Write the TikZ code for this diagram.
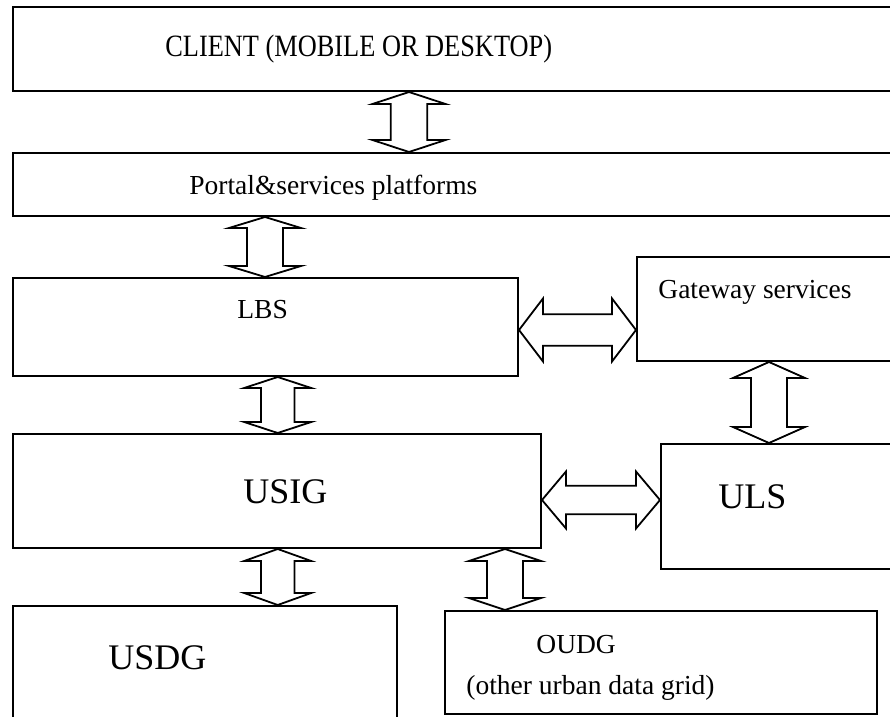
\documentclass[tikz,border=0pt]{standalone}
\usepackage{fontspec}
\setmainfont{Liberation Serif}
\usetikzlibrary{calc, fit}

% hollow two-headed arrows: end points, half head width, head length
\newcommand{\vdbl}[4]{%
  \draw[dblarrow] #1 -- ($#1+(#3,#4)$) -- ($#1+(#3/2,#4)$)
    -- ($#2+(#3/2,-#4)$) -- ($#2+(#3,-#4)$) -- #2
    -- ($#2+(-#3,-#4)$) -- ($#2+(-#3/2,-#4)$)
    -- ($#1+(-#3/2,#4)$) -- ($#1+(-#3,#4)$) -- cycle;}
\newcommand{\hdbl}[4]{%
  \draw[dblarrow] #1 -- ($#1+(#4,-#3)$) -- ($#1+(#4,-#3/2)$)
    -- ($#2+(-#4,-#3/2)$) -- ($#2+(-#4,-#3)$) -- #2
    -- ($#2+(-#4,#3)$) -- ($#2+(-#4,#3/2)$)
    -- ($#1+(#4,#3/2)$) -- ($#1+(#4,#3)$) -- cycle;}

\begin{document}
\begin{tikzpicture}[x=0.5pt, y=-0.5pt,
  box/.style={draw, line width=1pt, inner sep=0pt},
  dblarrow/.style={draw, line width=0.9pt, fill=white},
  small/.style={font=\fontsize{13.75}{16}\selectfont, inner sep=0pt, anchor=west},
  big/.style={font=\fontsize{18}{21}\selectfont, inner sep=0pt, anchor=west}]
  \useasboundingbox (0,0) rectangle (890,717);
  \clip (0,0) rectangle (890,717);

  % layers, left column
  \node[box, fit={(12.7,7) (900,91)}] (client) {};
  \node[box, fit={(12.7,153) (900,216)}] (portal) {};
  \node[box, fit={(12.7,278) (518,376)}] (lbs) {};
  \node[box, fit={(12.7,434) (541,548)}] (usig) {};
  \node[box, fit={(12.7,606) (397,740)}] (usdg) {};
  % right side
  \node[box, fit={(637,257) (900,361)}] (gateway) {};
  \node[box, fit={(661,444) (900,569)}] (uls) {};
  \node[box, fit={(445,611) (877,714)}] (oudg) {};

  % the client line is set narrow
  \node[font=\fontsize{15.5}{18}\selectfont, inner sep=0pt, anchor=base west]
    (clienttxt) at (165,57) {\scalebox{0.85}[1]{CLIENT (MOBILE OR DESKTOP)}};
  \node[small] (portaltxt) at (189,188) {Portal\&services platforms};
  \node[small] (lbstxt) at (237,310) {LBS};
  \node[small] (gatewaytxt) at (658,292) {Gateway services};
  \node[big] (usigtxt) at (243,492) {USIG};
  \node[big] (ulstxt) at (718,497) {ULS};
  \node[big] (usdgtxt) at (108,658) {USDG};
  \node[small] (oudgtxt) at (536,645) {OUDG};
  \node[small] (oudgsub) at (466,688) {(other urban data grid)};

  % links between layers
  \vdbl{(client.south -| 409,0)}{(portal.north -| 409,0)}{36.5}{12}
  \vdbl{(portal.south -| 265,0)}{(lbs.north -| 265,0)}{36}{11}
  \vdbl{(lbs.south -| 277.7,0)}{(usig.north -| 277.7,0)}{33.5}{11}
  \vdbl{(usig.south -| 277.7,0)}{(usdg.north -| 277.7,0)}{33.5}{12}
  \vdbl{(usig.south -| 505,0)}{(oudg.north -| 505,0)}{36}{12}
  \vdbl{(gateway.south -| 769,0)}{(uls.north -| 769,0)}{36}{16}
  \hdbl{(lbs.east |- 0,330)}{(gateway.west |- 0,330)}{31.5}{24}
  \hdbl{(usig.east |- 0,500)}{(uls.west |- 0,500)}{28.5}{24}
\end{tikzpicture}
\end{document}
